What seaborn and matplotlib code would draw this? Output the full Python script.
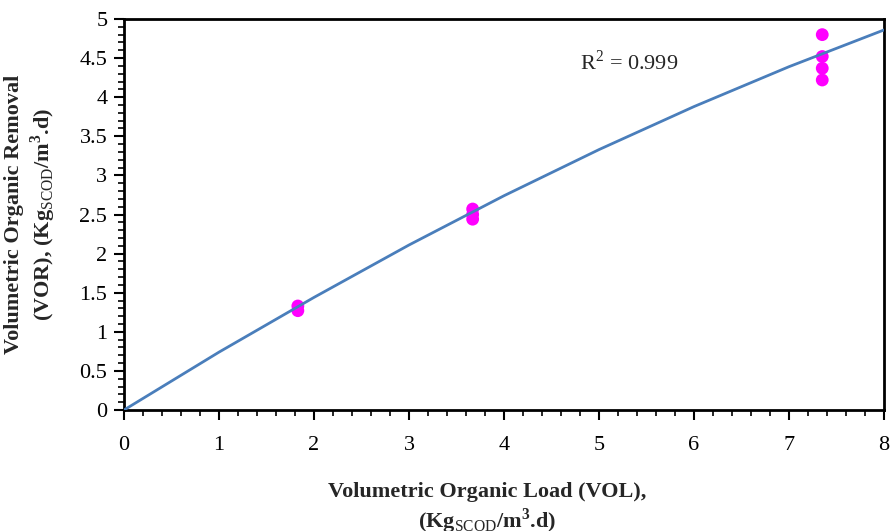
import numpy as np
import pandas as pd
import matplotlib
matplotlib.use("Agg")
import matplotlib.pyplot as plt
from matplotlib.ticker import MultipleLocator
import seaborn as sns

# Estilo
sns.set_style("white")
plt.rcParams['font.family'] = ['Liberation Serif', 'DejaVu Serif']
plt.rcParams['mathtext.fontset'] = 'custom'
plt.rcParams['mathtext.rm'] = 'Liberation Serif'
plt.rcParams['mathtext.bf'] = 'Liberation Serif:bold'

vol_medido = [1.83, 1.83, 3.67, 3.67, 3.67, 7.35, 7.35, 7.35, 7.35]
vor_medido = [1.33, 1.27, 2.57, 2.50, 2.44, 4.80, 4.52, 4.37, 4.22]

# Linha de tendencia
vol_curva = [0, 1, 2, 3, 4, 5, 6, 7, 8]
vor_curva = [0, 0.74, 1.44, 2.11, 2.74, 3.33, 3.88, 4.39, 4.86]

r2_texto = "R$^2$ = 0.999"

df_pts = pd.DataFrame({'VOL': vol_medido, 'VOR': vor_medido})
df_curva = pd.DataFrame({'VOL': vol_curva, 'VOR': vor_curva})

fig = plt.figure(figsize=(8.9, 5.31), dpi=100)
ax = fig.add_axes([124/890, 1 - 410/531, 760/890, 391/531])

sns.lineplot(data=df_curva, x='VOL', y='VOR', ax=ax, color='#4a7ebb', linewidth=2.0, zorder=3)
sns.scatterplot(data=df_pts, x='VOL', y='VOR', ax=ax, color='#ff00ff', s=85,
                edgecolor='none', zorder=2)

ax.set_xlim(0, 8)
ax.set_ylim(0, 5)
ax.xaxis.set_major_locator(MultipleLocator(1))
ax.xaxis.set_minor_locator(MultipleLocator(0.2))
ax.yaxis.set_minor_locator(MultipleLocator(0.1))
ax.set_yticks(np.arange(0, 5.01, 0.5))
ax.set_yticklabels(['0', '0.5', '1', '1.5', '2', '2.5', '3', '3.5', '4', '4.5', '5'])

ax.tick_params(which='major', direction='out', length=7, width=1.5, labelsize=16,
               bottom=True, left=True, pad=5, colors='black')
ax.tick_params(which='minor', direction='out', length=4, width=1.2,
               bottom=True, left=True, colors='black')
ax.tick_params(axis='x', which='major', pad=12)

for lado in ['top', 'right', 'bottom', 'left']:
    ax.spines[lado].set_visible(True)
    ax.spines[lado].set_color('black')
    ax.spines[lado].set_linewidth(2)

ax.set_xlabel("Volumetric Organic Load (VOL),\n(Kg$_{\\mathrm{SCOD}}$/m$^{\\mathbf{3}}$.d)",
              fontsize=16, fontweight='bold', linespacing=1.2)
ax.xaxis.set_label_coords((487 - 124) / 760, -(482 - 410) / 391)
ax.set_ylabel("Volumetric Organic Removal\n(VOR), (Kg$_{\\mathrm{SCOD}}$/m$^{\\mathbf{3}}$.d)",
              fontsize=16, fontweight='bold', linespacing=1.2)
ax.yaxis.set_label_coords((58 - 124) / 760, 0.5)

ax.text(4.8, 4.44, r2_texto, fontsize=16, ha='left', va='center')

fig.savefig('out.png', dpi=100)
